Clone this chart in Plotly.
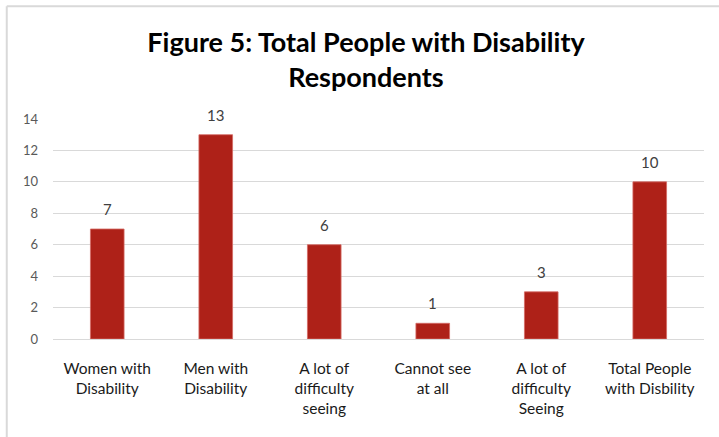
import plotly.graph_objects as go

categories = [
    "Women with<br>Disability",
    "Men with<br>Disability",
    "A lot of<br>difficulty<br>seeing",
    "Cannot see<br>at all",
    "A lot of<br>difficulty<br>Seeing",
    "Total People<br>with Disbility",
]
values = [7, 13, 6, 1, 3, 10]
y_ticks = [0, 2, 4, 6, 8, 10, 12, 14]
title_text = "Figure 5: Total People with Disability<br>Respondents"

W, H = 719, 437
L, R, T, B = 52.75, 15.25, 119.3, 97.7
pw, ph = W - L - R, H - T - B

def px_x(x):
    return (x - L) / pw

def px_y(y):
    return 1 - (y - T) / ph

FONT = "Lato"

fig = go.Figure(
    go.Bar(
        x=categories,
        y=values,
        marker=dict(color="#ae2118", line=dict(color="#d46a63", width=0.8)),
        hoverinfo="skip",
    )
)

for c, v in zip(categories, values):
    fig.add_annotation(
        x=c, y=v, text=str(v), showarrow=False,
        xanchor="center", yanchor="bottom", yshift=9,
        font=dict(family=FONT, size=15, color="#404040"),
    )

fig.update_layout(
    width=W,
    height=H,
    margin=dict(l=L, r=R, t=T, b=B, pad=0),
    paper_bgcolor="white",
    plot_bgcolor="white",
    bargap=0.69,
    showlegend=False,
    title=dict(
        text="<b>" + title_text + "</b>",
        x=366 / W,
        xanchor="center",
        y=1 - 52 / H,
        yanchor="top",
        font=dict(family=FONT, size=27, color="#000000"),
    ),
    xaxis=dict(
        showgrid=False,
        showline=True,
        linecolor="#d9d9d9",
        linewidth=1,
        tickfont=dict(family=FONT, size=15.5, color="#1a1a1a"),
        ticklabelstandoff=15,
    ),
    yaxis=dict(
        range=[0, 14],
        tickvals=y_ticks,
        showgrid=True,
        gridcolor="#d9d9d9",
        gridwidth=1,
        zeroline=False,
        showline=False,
        tickfont=dict(family=FONT, size=13, color="#595959"),
        ticklabelstandoff=14,
    ),
    shapes=[
        dict(type="line", xref="paper", yref="paper",
             x0=px_x(6.5), x1=px_x(6.5), y0=px_y(6.5), y1=px_y(H + 2),
             line=dict(color="#d9d9d9", width=2)),
        dict(type="line", xref="paper", yref="paper",
             x0=px_x(6.5), x1=px_x(W + 2), y0=px_y(6.5), y1=px_y(6.5),
             line=dict(color="#d9d9d9", width=2)),
    ],
)

fig.write_html("out.html")
